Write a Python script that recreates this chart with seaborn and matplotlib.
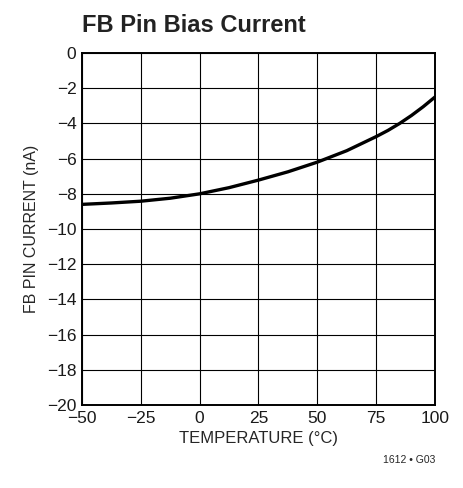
import matplotlib
matplotlib.use('Agg')
import matplotlib.pyplot as plt
import seaborn as sns
import pandas as pd

# values
temperature = [-50, -37.5, -25, -12.5, 0, 12.5, 25, 37.5, 50, 62.5, 75, 80, 85, 90, 95, 100]
fb_current = [-8.6, -8.52, -8.42, -8.25, -8.0, -7.65, -7.22, -6.75, -6.2, -5.55,
              -4.75, -4.4, -4.0, -3.55, -3.05, -2.5]
x_ticks = [-50, -25, 0, 25, 50, 75, 100]
y_ticks = list(range(-20, 1, 2))

df = pd.DataFrame({'Temperature': temperature, 'Current': fb_current})

sns.set_style('white')
plt.rcParams['font.family'] = ['Liberation Sans Narrow', 'Liberation Sans', 'DejaVu Sans']

fig = plt.figure(figsize=(4.64, 4.88), dpi=100)
ax = fig.add_axes([0.1767, 0.170, 0.7608, 0.7214])

sns.lineplot(data=df, x='Temperature', y='Current', ax=ax, color='black', linewidth=2.4)

ax.set_xlim(-50, 100)
ax.set_ylim(-20, 0)
ax.set_xticks(x_ticks)
ax.set_yticks(y_ticks)
ax.set_xticklabels([str(v).replace('-', '\u2212') for v in x_ticks], fontsize=12.5)
ax.set_yticklabels([str(v).replace('-', '\u2212') for v in y_ticks], fontsize=12.5)
ax.tick_params(length=0, pad=4, colors='#1a1a1a')
ax.grid(True, color='black', linewidth=0.8)
for s in ax.spines.values():
    s.set_color('black')
    s.set_linewidth(1.4)

ax.set_xlabel('TEMPERATURE (\u00b0C)', fontsize=12, labelpad=4)
ax.set_ylabel('FB PIN CURRENT (nA)', fontsize=11.5, labelpad=6)

fig.text(0.1767, 0.948, 'FB Pin Bias Current', fontsize=17, fontweight='bold',
         ha='left', va='center', color='#222222')
fig.text(0.9375, 0.058, '1612 \u2022 G03', fontsize=7.5, ha='right', va='center')

fig.savefig('out.png', dpi=100)
